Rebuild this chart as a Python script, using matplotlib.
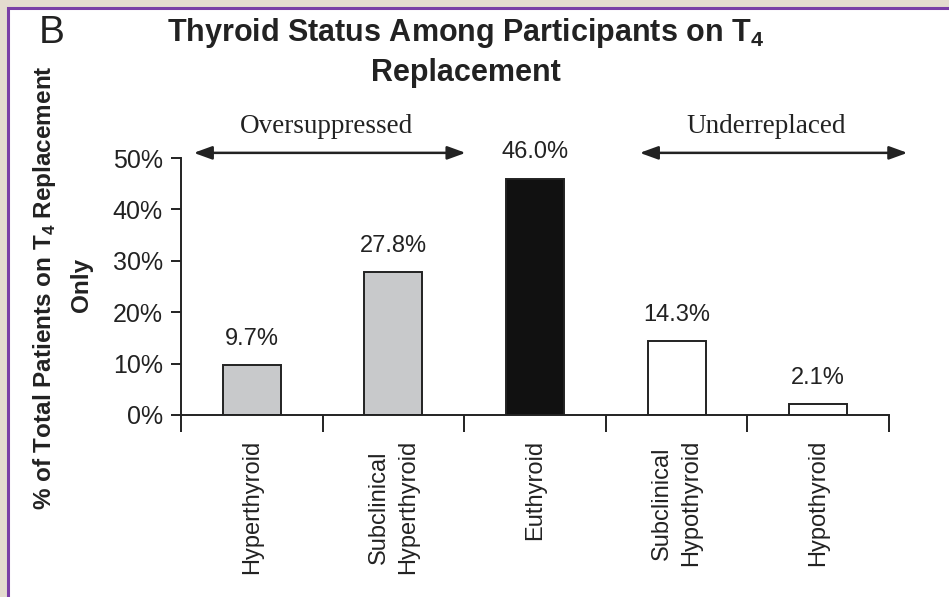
import matplotlib.pyplot as plt
from matplotlib.patches import Rectangle

categories = ["Hyperthyroid", "Subclinical\nHyperthyroid", "Euthyroid",
              "Subclinical\nHypothyroid", "Hypothyroid"]
values = [9.7, 27.8, 46.0, 14.3, 2.1]
bar_colors = ["#c8c9cb", "#c8c9cb", "#111111", "#ffffff", "#ffffff"]
y_ticks = [0, 10, 20, 30, 40, 50]

plt.rcParams['font.family'] = ['Liberation Sans', 'DejaVu Sans']
plt.rcParams['mathtext.fontset'] = 'custom'
plt.rcParams['mathtext.rm'] = 'Liberation Sans'
plt.rcParams['mathtext.bf'] = 'Liberation Sans:bold'

fig = plt.figure(figsize=(9.49, 5.97), dpi=100, facecolor="#e4dccf")
# white panel with purple border
fig.patches.append(Rectangle((8 / 949, -0.01), 1.0, 1 - 8 / 597 + 0.01,
                             transform=fig.transFigure, facecolor="white",
                             edgecolor="#7a3fa6", linewidth=2.2, zorder=-5))

ax = fig.add_axes([181 / 949, 1 - 415 / 597, (889 - 181) / 949, (415 - 158) / 597])
ax.set_facecolor("none")
x = list(range(len(categories)))
ax.bar(x, values, width=0.41, color=bar_colors, edgecolor="#222222", linewidth=1.4)

for xi, v in zip(x, values):
    ax.annotate(f"{v:.1f}%", (xi, v), xytext=(0, 11), textcoords="offset points",
                ha="center", va="bottom", fontsize=17, color="#222222")

ax.set_xlim(-0.5, 4.5)
ax.set_ylim(0, 50)
ax.set_yticks(y_ticks)
ax.set_yticklabels([f"{t}%" for t in y_ticks], fontsize=18, color="#222222")
ax.set_xticks(x)
ax.set_xticklabels(categories, rotation=90, fontsize=17, color="#222222",
                   va="top", ha="center", linespacing=1.45)
ax.set_xticks([i - 0.5 for i in range(len(categories) + 1)], minor=True)
ax.tick_params(axis="x", which="major", length=0, pad=18)
ax.tick_params(axis="x", which="minor", length=12, width=1.4, direction="out", color="#222222")
ax.tick_params(axis="y", length=7, width=1.4, color="#222222", pad=6)
for s in ["top", "right"]:
    ax.spines[s].set_visible(False)
for s in ["left", "bottom"]:
    ax.spines[s].set_linewidth(1.4)
    ax.spines[s].set_color("#222222")

# bracket arrows
arrow_kw = dict(arrowstyle="<|-|>,head_length=1.1,head_width=0.4", color="#222222", lw=1.8,
                shrinkA=0, shrinkB=0)
ax.annotate("", xy=(-0.41, 51.0), xytext=(1.51, 51.0), arrowprops=arrow_kw, annotation_clip=False)
ax.annotate("", xy=(2.74, 51.0), xytext=(4.63, 51.0), arrowprops=arrow_kw, annotation_clip=False)
ax.text(0.53, 53.6, "Oversuppressed", ha="center", va="bottom", fontsize=19.5,
        family="Liberation Serif", color="#222222")
ax.text(3.63, 53.6, "Underreplaced", ha="center", va="bottom", fontsize=19.5,
        family="Liberation Serif", color="#222222")

fig.text(466 / 949, 1 - 33 / 597, r"Thyroid Status Among Participants on T$_\mathbf{4}$",
         ha="center", va="center", fontsize=22, fontweight="bold", color="#222222")
fig.text(466 / 949, 1 - 73 / 597, "Replacement",
         ha="center", va="center", fontsize=22, fontweight="bold", color="#222222")
fig.text(52 / 949, 1 - 33 / 597, "B", ha="center", va="center", fontsize=28, color="#222222")

fig.text(45 / 949, 1 - 288 / 597, r"% of Total Patients on T$_\mathbf{4}$ Replacement",
         rotation=90, ha="center", va="center", fontsize=17.5, fontweight="bold", color="#222222")
fig.text(82 / 949, 1 - 285 / 597, "Only", rotation=90, ha="center", va="center",
         fontsize=17.5, fontweight="bold", color="#222222")

fig.savefig("out.png", dpi=100, facecolor=fig.get_facecolor())
